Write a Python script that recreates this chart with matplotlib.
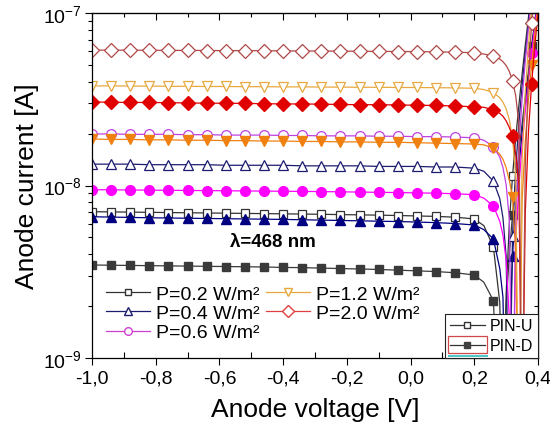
# encoding: utf-8
'''
Anode current vs. anode voltage of the PIN-U / PIN-D photodiodes
under 468 nm illumination at several optical power densities.
'''
import math
import matplotlib
matplotlib.use('Agg')
import matplotlib.pyplot as plt
from matplotlib.ticker import FuncFormatter, LogLocator, MultipleLocator, NullFormatter
from matplotlib.lines import Line2D
from matplotlib.patches import Rectangle

plt.rcParams['font.family'] = ['Liberation Sans', 'DejaVu Sans']
plt.rcParams['mathtext.fontset'] = 'custom'
plt.rcParams['mathtext.rm'] = 'Liberation Sans'
plt.rcParams['mathtext.it'] = 'Liberation Sans:italic'

# anode voltage [V]
voltage = [-1.00, -0.94, -0.88, -0.82, -0.76, -0.70, -0.64, -0.58, -0.52, -0.46,
           -0.40, -0.34, -0.28, -0.22, -0.16, -0.10, -0.04, 0.02, 0.08, 0.14,
           0.20, 0.23, 0.26, 0.28, 0.29, 0.30, 0.31, 0.32, 0.33, 0.34,
           0.35, 0.36, 0.37, 0.38, 0.39, 0.40]
marker_idx = list(range(21)) + [22, 27, 33]

# |anode current| in nA, PIN-U
pin_u_02 = [7.05, 7.03, 7.01, 6.99, 6.97, 6.95, 6.93, 6.91, 6.89, 6.87,
            6.85, 6.83, 6.81, 6.78, 6.76, 6.73, 6.70, 6.66, 6.62, 6.55,
            6.40, 5.85, 4.40, 2.10, 0.30, 2.35, 6.05, 11.3, 18.8, 29.2,
            44.0, 65.0, 94.0, 136, 193, 277]
pin_u_04 = [13.3, 13.3, 13.3, 13.2, 13.2, 13.2, 13.2, 13.1, 13.1, 13.1,
            13.1, 13.0, 13.0, 13.0, 13.0, 12.9, 12.9, 12.9, 12.8, 12.8,
            12.6, 12.1, 10.6, 8.40, 6.50, 3.90, 0.30, 5.10, 12.5, 23.0,
            37.8, 58.6, 88.0, 130, 187, 271]
pin_u_06 = [19.9, 19.9, 19.8, 19.8, 19.8, 19.7, 19.7, 19.6, 19.6, 19.6,
            19.5, 19.5, 19.4, 19.4, 19.4, 19.3, 19.3, 19.2, 19.2, 19.1,
            18.9, 18.3, 16.8, 14.6, 12.7, 10.1, 6.40, 0.30, 6.30, 16.8,
            31.6, 52.4, 82.0, 124, 181, 265]
pin_u_12 = [37.8, 37.8, 37.7, 37.7, 37.6, 37.6, 37.5, 37.5, 37.4, 37.4,
            37.3, 37.3, 37.2, 37.2, 37.1, 37.1, 37.0, 37.0, 36.9, 36.8,
            36.6, 36.0, 34.5, 32.3, 30.4, 27.8, 24.1, 18.8, 11.4, 0.30,
            13.9, 34.7, 64.0, 106, 163, 247]
pin_u_20 = [61.0, 60.9, 60.9, 60.8, 60.7, 60.7, 60.6, 60.5, 60.5, 60.4,
            60.3, 60.2, 60.2, 60.1, 60.0, 59.9, 59.8, 59.7, 59.5, 59.3,
            58.8, 57.8, 56.3, 54.1, 52.2, 49.6, 45.9, 40.6, 33.2, 22.7,
            0.30, 13.0, 42.0, 88.0, 141, 225]

# |anode current| in nA, PIN-D
pin_d_02 = [3.46, 3.45, 3.44, 3.43, 3.42, 3.41, 3.40, 3.39, 3.38, 3.37,
            3.35, 3.34, 3.32, 3.30, 3.28, 3.26, 3.23, 3.20, 3.17, 3.12,
            3.03, 2.75, 2.15, 0.30, 0.60, 2.00, 4.00, 6.75, 10.5, 15.6,
            22.8, 32.6, 46.0, 64.6, 90.0, 126]
pin_d_04 = [6.59, 6.56, 6.53, 6.50, 6.48, 6.46, 6.44, 6.42, 6.40, 6.38,
            6.36, 6.33, 6.30, 6.27, 6.24, 6.21, 6.18, 6.14, 6.09, 6.02,
            5.90, 5.55, 4.90, 3.30, 2.25, 0.30, 1.20, 3.90, 7.70, 12.8,
            20.0, 29.8, 43.3, 61.8, 87.4, 123]
pin_d_06 = [9.46, 9.44, 9.42, 9.40, 9.38, 9.36, 9.34, 9.32, 9.30, 9.28,
            9.26, 9.24, 9.22, 9.19, 9.16, 9.13, 9.10, 9.06, 9.02, 8.96,
            8.85, 8.45, 7.60, 6.20, 5.15, 3.70, 1.70, 0.30, 4.80, 9.90,
            17.1, 26.9, 40.4, 58.9, 84.5, 120]
pin_d_12 = [18.6, 18.5, 18.5, 18.4, 18.4, 18.3, 18.3, 18.2, 18.2, 18.1,
            18.1, 18.0, 18.0, 17.9, 17.9, 17.8, 17.8, 17.7, 17.6, 17.5,
            17.4, 17.2, 16.5, 15.2, 14.2, 12.7, 10.7, 8.60, 4.20, 0.30,
            8.10, 17.9, 31.4, 49.9, 75.5, 111]
pin_d_20 = [30.5, 30.4, 30.3, 30.3, 30.2, 30.1, 30.0, 30.0, 29.9, 29.8,
            29.7, 29.7, 29.6, 29.5, 29.4, 29.4, 29.3, 29.2, 29.1, 28.9,
            28.6, 28.4, 27.5, 26.2, 25.2, 23.7, 21.7, 19.4, 15.2, 10.1,
            0.30, 6.90, 20.4, 38.9, 64.5, 100]

powers = ['0.2', '0.4', '0.6', '1.2', '2.0']
markers = ['s', '^', 'o', 'v', 'D']
msizes = [6, 7, 7, 7, 7.5]
u_colors = ['#333333', '#1c1c70', '#c040e0', '#e8a840', '#b04848']
d_colors = ['#3a3a3a', '#000080', '#ff00ff', '#f08010', '#e00000']
legend_colors = ['#333333', '#1c1c70', '#d040d0', '#e8a840', '#e04040']
u_data = [pin_u_02, pin_u_04, pin_u_06, pin_u_12, pin_u_20]
d_data = [pin_d_02, pin_d_04, pin_d_06, pin_d_12, pin_d_20]

fig = plt.figure(figsize=(5.5, 4.39), dpi=100)
ax = fig.add_axes([92/550, 1 - 359/439, 446/550, 345/439])

for i in range(len(powers)):
    ax.plot(voltage, [v*1e-9 for v in d_data[i]], '-', color=d_colors[i], lw=0.9,
            marker=markers[i], ms=msizes[i], mfc=d_colors[i], mec=d_colors[i],
            markevery=marker_idx)
    ax.plot(voltage, [v*1e-9 for v in u_data[i]], '-', color=u_colors[i], lw=0.9,
            marker=markers[i], ms=msizes[i], mfc='white', mec=u_colors[i], mew=0.9,
            markevery=marker_idx)

ax.set_yscale('log')
ax.set_xlim(-1.0, 0.4)
ax.set_ylim(1e-9, 1e-7)

ax.xaxis.set_major_locator(MultipleLocator(0.2))
ax.xaxis.set_minor_locator(MultipleLocator(0.1))
ax.xaxis.set_major_formatter(FuncFormatter(lambda x, pos: ('%.1f' % x).replace('.', ',')))
ax.yaxis.set_major_locator(LogLocator(base=10, numticks=5))
ax.yaxis.set_minor_locator(LogLocator(base=10, subs=range(2, 10), numticks=20))
ax.yaxis.set_minor_formatter(NullFormatter())
ax.yaxis.set_major_formatter(FuncFormatter(lambda y, pos: r'10$^{\mathregular{%d}}$' % round(math.log10(y))))

ax.tick_params(axis='x', which='major', direction='out', length=5, width=0.8, labelsize=14, pad=3)
ax.tick_params(axis='x', which='minor', direction='in', length=4, width=0.8)
ax.tick_params(axis='y', which='major', direction='out', length=5, width=0.8, labelsize=14, pad=2)
ax.tick_params(axis='y', which='minor', direction='out', length=3, width=0.8)

# mirrored ticks pointing inwards on top and right
top = ax.secondary_xaxis('top')
top.xaxis.set_major_locator(MultipleLocator(0.2))
top.xaxis.set_minor_locator(MultipleLocator(0.1))
top.tick_params(which='major', direction='in', length=5, width=0.8, labeltop=False)
top.tick_params(which='minor', direction='in', length=3, width=0.8)
right = ax.secondary_yaxis('right')
right.yaxis.set_major_locator(LogLocator(base=10, numticks=5))
right.yaxis.set_minor_locator(LogLocator(base=10, subs=range(2, 10), numticks=20))
right.yaxis.set_minor_formatter(NullFormatter())
right.tick_params(which='major', direction='in', length=5, width=0.8, labelright=False)
right.tick_params(which='minor', direction='in', length=3, width=0.8)

for sp in ax.spines.values():
    sp.set_linewidth(0.9)

ax.set_xlabel('Anode voltage [V]', fontsize=19, labelpad=8)
ax.set_ylabel('Anode current [A]', fontsize=19, labelpad=3)

ax.text(0.406, 0.339, u'\u03bb=468 nm', transform=ax.transAxes, fontsize=13.5,
        fontweight='bold', ha='center', va='center')

# power legend
p_handles = [Line2D([], [], color=legend_colors[i], lw=0.9, marker=markers[i],
                    ms=msizes[i] - 1.5, mfc='white', mec=legend_colors[i])
             for i in range(len(powers))]
p_labels = ['P=%s W/m\u00b2' % p for p in powers]
leg1 = ax.legend(p_handles, p_labels, loc='upper left', bbox_to_anchor=(0.0, 0.25),
                 ncol=2, frameon=False, fontsize=14, handlelength=2.3,
                 handletextpad=0.3, labelspacing=0.08, columnspacing=0.3,
                 borderpad=0.2)
ax.add_artist(leg1)

# device legend
dev_handles = [Line2D([], [], color='#333333', lw=0.9, marker='s', ms=5, mfc='white', mec='#333333'),
               Line2D([], [], color='#333333', lw=0.9, marker='s', ms=5, mfc='#404040', mec='#404040')]
leg2 = ax.legend(dev_handles, ['PIN-U', 'PIN-D'], loc='lower right', bbox_to_anchor=(1.0, 0.0),
                 borderaxespad=0, fontsize=11.5, handlelength=2.2, handletextpad=0.3,
                 labelspacing=0.3, borderpad=0.3, fancybox=False, framealpha=1,
                 edgecolor='#222222')
leg2.get_frame().set_linewidth(0.8)
ax.add_patch(Rectangle((0.798, 0.0145), 0.088, 0.049, transform=ax.transAxes,
                       fill=False, edgecolor='#d04848', lw=0.9, zorder=10))
ax.plot([0.80, 0.885], [0.006, 0.006], transform=ax.transAxes, color='#50c8c8',
        lw=1.5, zorder=10, clip_on=False)

fig.savefig('out.png', dpi=100)
